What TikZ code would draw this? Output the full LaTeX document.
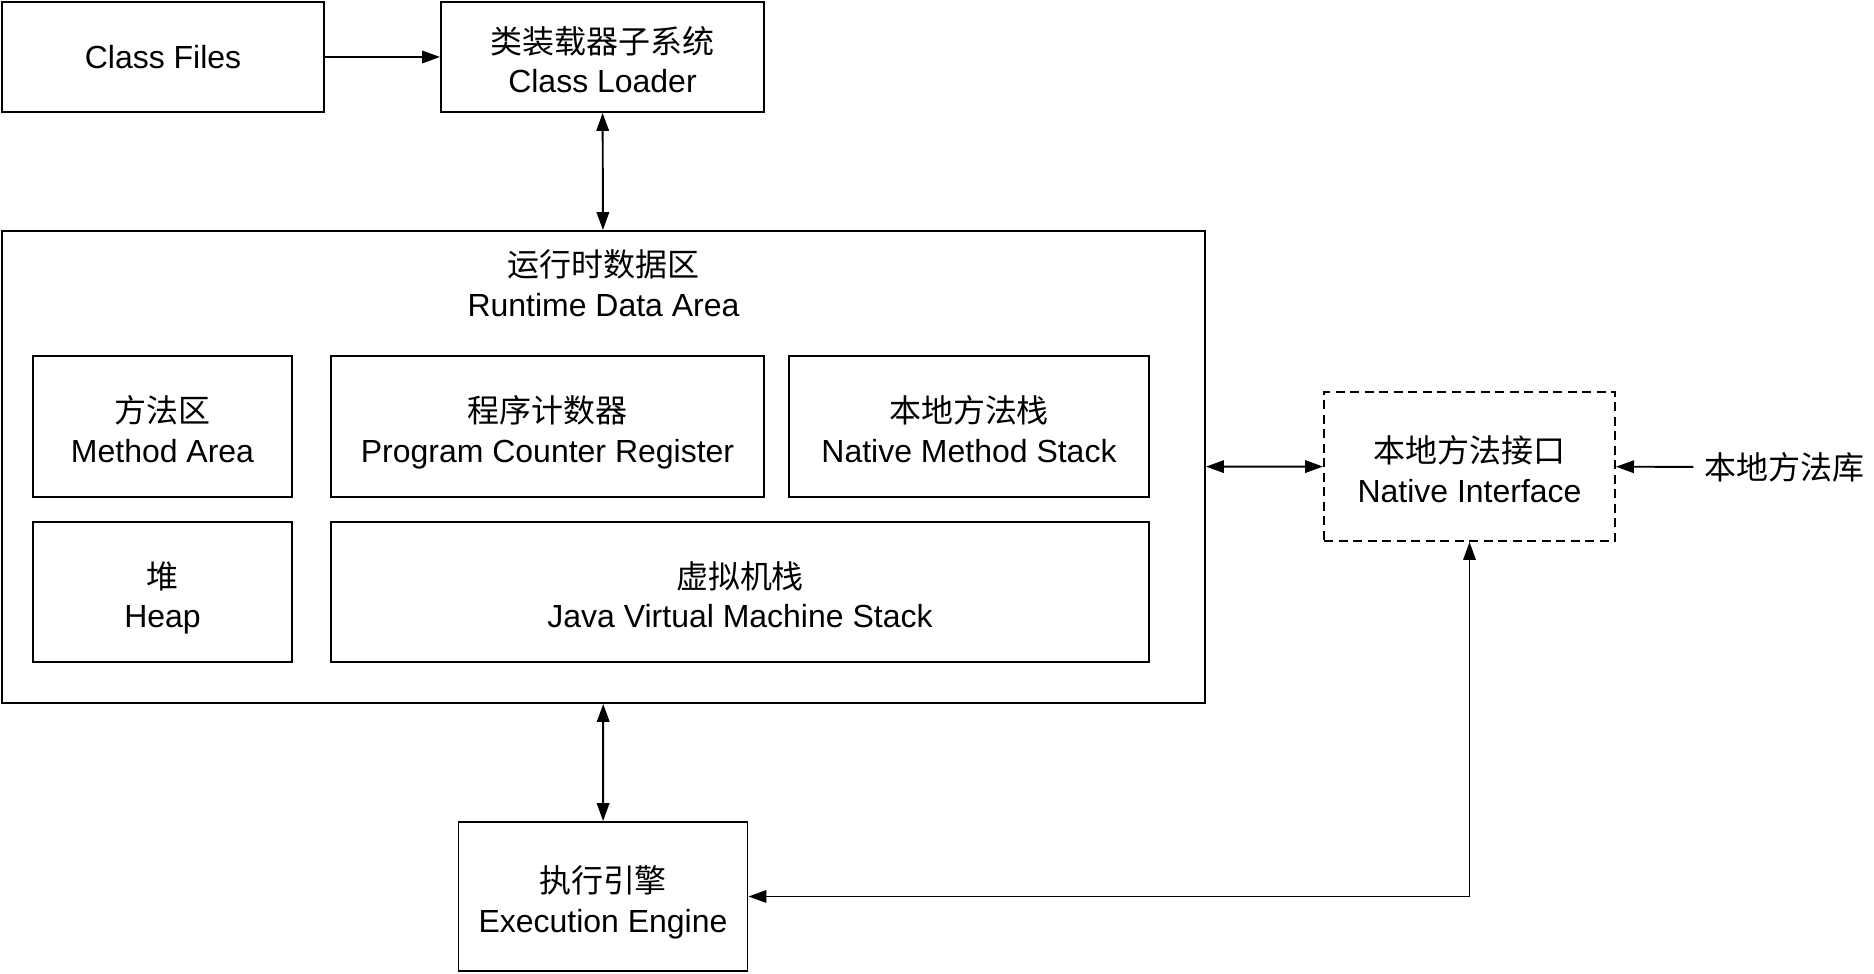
\documentclass[tikz,border=0pt]{standalone}
\usepackage{fontspec}
\setmainfont{Liberation Sans}
\newfontfamily\cjk{Noto Sans CJK SC}
\usepackage{tikz}
\usetikzlibrary{positioning, arrows.meta, calc}

% two-line label: Chinese above, English below, with fixed top and bottom struts
\newcommand{\duo}[2]{{\cjk\rule{0pt}{1.22em}#1}\\#2\rule[-0.22em]{0pt}{0.22em}}

\begin{document}
\begin{tikzpicture}[
        unit/.style={draw, rectangle, line width=0.55pt, align=center, inner sep=0pt, font=\fontsize{9.1}{11.3}\selectfont},
        native/.style={unit, dash pattern=on 0.9mm off 0.55mm},
        title/.style={align=center, inner sep=0pt, font=\fontsize{9.1}{11.3}\selectfont},
        arrow/.style={-{Triangle[length=1.8mm, width=1.25mm]}, line width=0.55pt},
        biarrow/.style={{Triangle[length=1.8mm, width=1.25mm]}-{Triangle[length=1.8mm, width=1.25mm]}, line width=0.55pt}
    ]
    \useasboundingbox (0,0) rectangle (18.74,-9.74);

    % --- Top row ---
    \node[unit, minimum width=3.22cm, minimum height=1.10cm] (files) at (1.63, -0.57) {Class Files};
    \node[unit, minimum width=3.23cm, minimum height=1.10cm] (loader) at (6.025, -0.57) {\duo{类装载器子系统}{Class Loader}};

    % --- Runtime data area ---
    \node[unit, minimum width=12.03cm, minimum height=4.72cm] (rda) at (6.035, -4.67) {};
    \node[title] (rdatitle) at (6.035, -2.83) {{\cjk 运行时数据区}\\Runtime Data Area};

    \node[unit, minimum width=2.59cm, minimum height=1.41cm] (method) at (1.625, -4.265) {\duo{方法区}{Method Area}};
    \node[unit, minimum width=4.33cm, minimum height=1.41cm] (pc) at (5.475, -4.265) {\duo{程序计数器}{Program Counter Register}};
    \node[unit, minimum width=3.60cm, minimum height=1.41cm] (nms) at (9.69, -4.265) {\duo{本地方法栈}{Native Method Stack}};
    \node[unit, minimum width=2.59cm, minimum height=1.40cm] (heap) at (1.625, -5.92) {\duo{堆}{Heap}};
    \node[unit, minimum width=8.18cm, minimum height=1.40cm] (jvms) at (7.40, -5.92) {\duo{虚拟机栈}{Java Virtual Machine Stack}};

    % --- Native side ---
    \node[native, minimum width=2.91cm, minimum height=1.49cm] (ni) at (14.695, -4.665) {\duo{本地方法接口}{Native Interface}};
    \node[title, inner sep=1mm] (lib) at (17.84, -4.67) {\cjk 本地方法库};

    % --- Bottom ---
    \node[unit, minimum width=2.89cm, minimum height=1.49cm] (engine) at (6.03, -8.965) {\duo{执行引擎}{Execution Engine}};

    % --- Arrows ---
    \draw[arrow] (files) -- (loader);
    \draw[biarrow] (loader) -- (rda);
    \draw[biarrow] (rda) -- (engine);
    \draw[biarrow] (rda) -- (ni);
    \draw[arrow] (lib) -- (ni);
    \draw[biarrow] (ni.south) |- (engine.east);

\end{tikzpicture}
\end{document}
